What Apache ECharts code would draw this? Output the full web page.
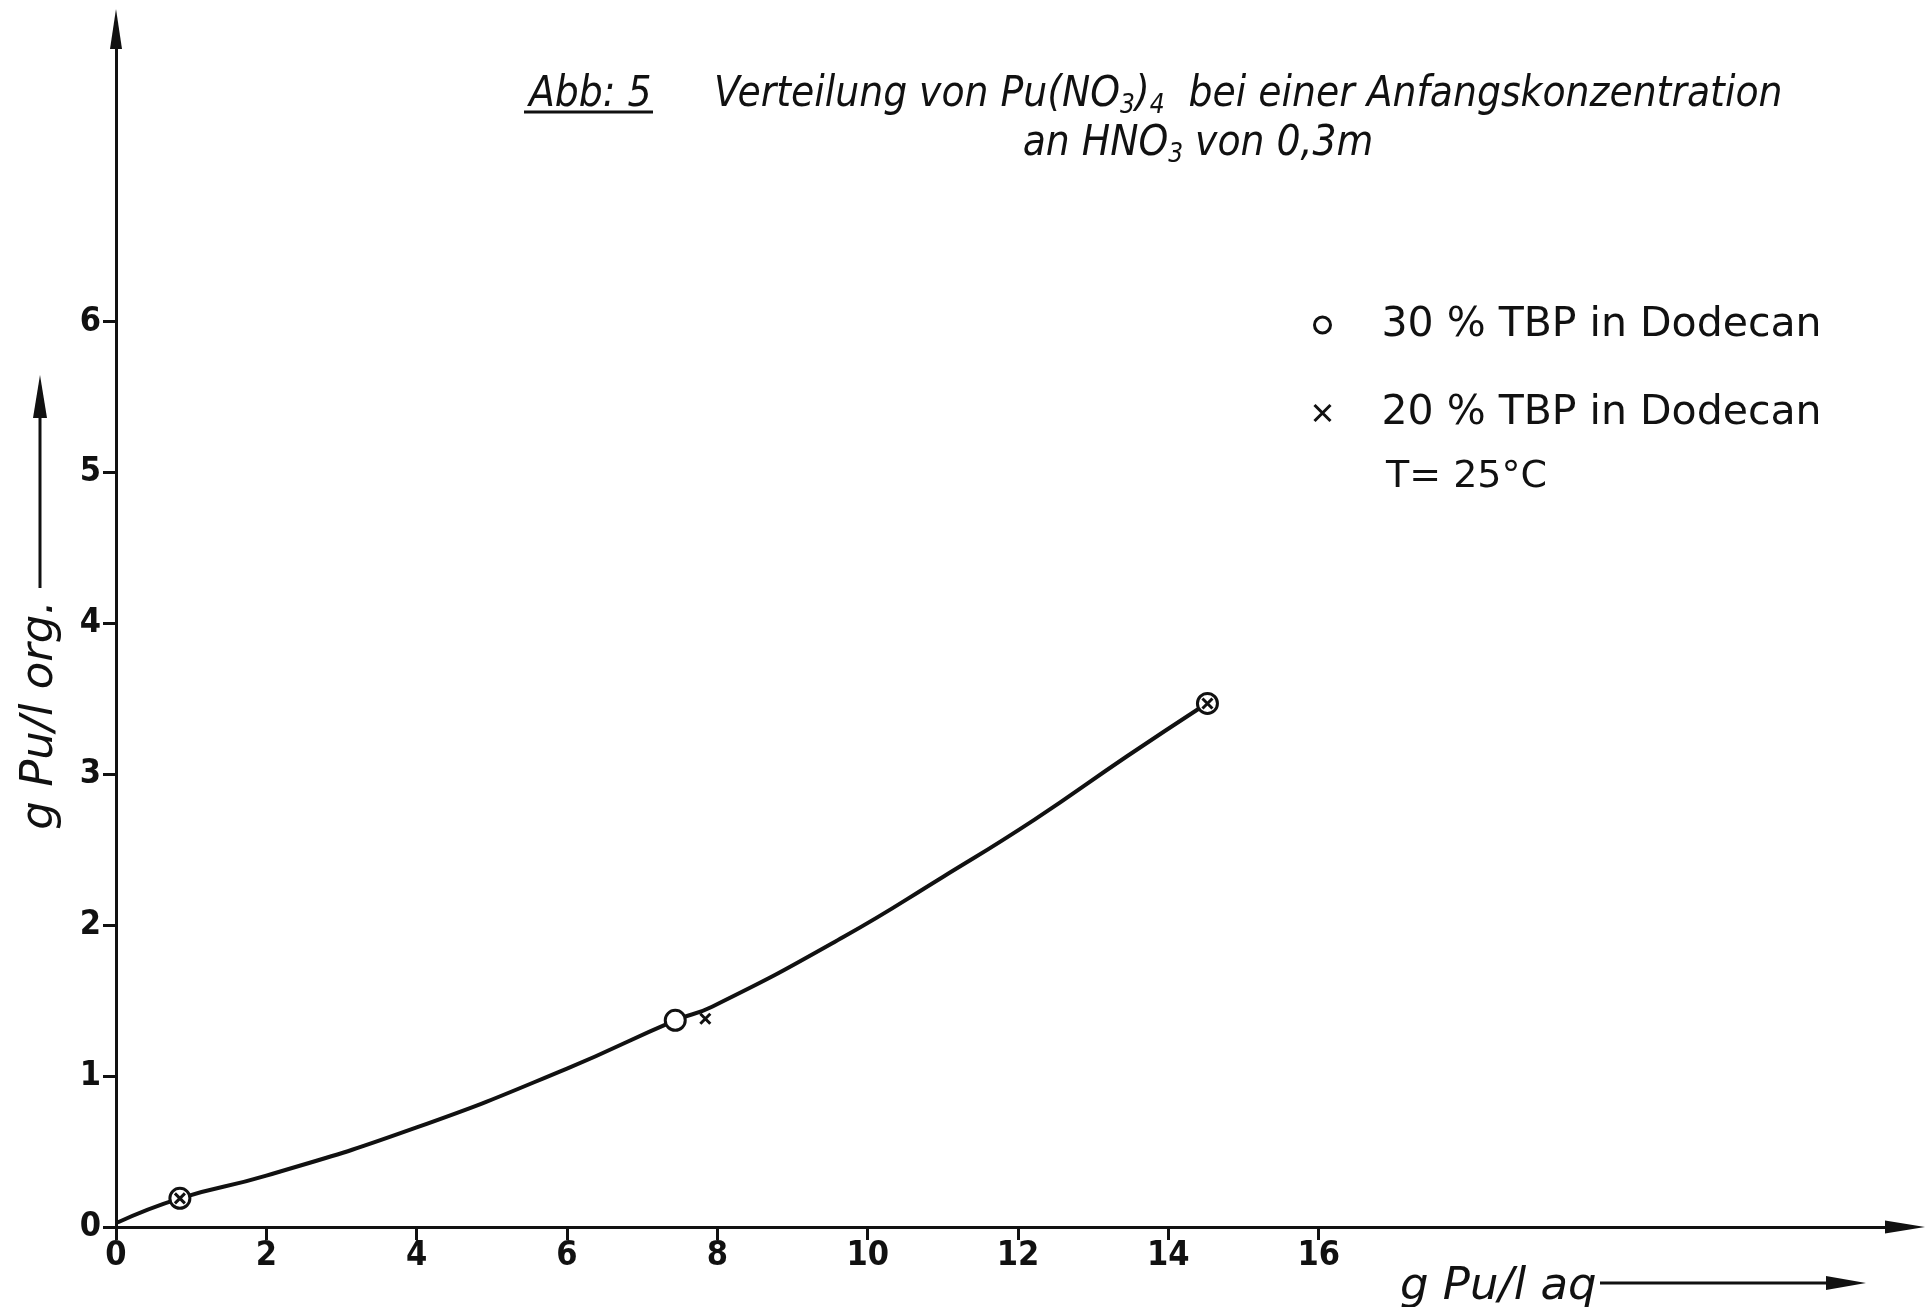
<!DOCTYPE html>
<html>
<head>
<meta charset="utf-8">
<script src="https://cdn.jsdelivr.net/npm/echarts@6/dist/echarts.min.js"></script>
<style>
html,body{margin:0;padding:0;background:#fff;}
#chart{width:1928px;height:1307px;}
</style>
</head>
<body>
<div id="chart"></div>
<script>
// ---- data ----
const xTicks = [0, 2, 4, 6, 8, 10, 12, 14, 16];
const yTicks = [0, 1, 2, 3, 4, 5, 6];
const seriesNames = ['30 % TBP in Dodecan', '20 % TBP in Dodecan'];
const tbp30 = [[0.85, 0.19], [7.44, 1.37], [14.52, 3.47]];
const tbp20 = [[0.85, 0.19], [7.84, 1.38], [14.52, 3.47]];
const curve = [[0.02, 0.03], [0.85, 0.19], [2, 0.34], [4, 0.66], [6, 1.05], [7.44, 1.37],
               [7.93, 1.46], [9.67, 1.92], [11, 2.32], [12.22, 2.70], [13.45, 3.12], [14.45, 3.45]];
const xName = 'g Pu/l aq';
const yName = 'g Pu/l org.';
const noteText = 'T= 25°C';

const INK = '#111';
const ITAL = 'DejaVu Sans Condensed';
const chart = echarts.init(document.getElementById('chart'), null, {renderer: 'canvas'});

const subStyle = {fontSize: 26, fontStyle: 'italic', fontWeight: 'normal', fontFamily: ITAL, color: INK, lineHeight: 12, verticalAlign: 'bottom'};
const mainStyle = {fontSize: 42, fontStyle: 'italic', fontWeight: 'normal', fontFamily: ITAL, color: INK, lineHeight: 48};

const option = {
  backgroundColor: '#fff',
  animation: false,
  title: [
    {text: 'Abb: 5', left: 524, top: 66, textStyle: mainStyle},
    {text: '{m|Verteilung von Pu(NO}{s|3}{m|)}{s|4}{m|  bei einer Anfangskonzentration}', left: 709, top: 66,
     textStyle: {rich: {m: mainStyle, s: subStyle}}},
    {text: '{m|an HNO}{s|3}{m| von 0,3m}', left: 1193, textAlign: 'center', top: 115,
     textStyle: {rich: {m: mainStyle, s: subStyle}}}
  ],
  legend: {
    orient: 'vertical',
    left: 1308,
    top: 298,
    itemWidth: 16,
    itemHeight: 16,
    itemGap: 44,
    textStyle: {fontSize: 41, fontFamily: 'DejaVu Sans', color: INK, lineHeight: 44, padding: [0, 0, 0, 46]},
    data: [
      {name: seriesNames[0], icon: 'circle', itemStyle: {color: '#fff', borderColor: INK, borderWidth: 3}},
      {name: seriesNames[1], icon: 'path://M0,0L10,10M0,10L10,0', itemStyle: {color: 'transparent', borderColor: INK, borderWidth: 3}}
    ]
  },
  grid: {left: 116, right: 23, top: 29, bottom: 80},
  xAxis: {
    type: 'value', min: 0, max: 23.8,
    splitLine: {show: false},
    axisLine: {show: true, lineStyle: {color: INK, width: 3}, symbol: ['none', 'triangle'], symbolSize: [13, 40]},
    axisTick: {show: true, length: 13, customValues: xTicks, lineStyle: {color: INK, width: 3}},
    axisLabel: {customValues: xTicks, margin: 12, color: INK, fontSize: 34, fontWeight: 'bold', fontFamily: 'DejaVu Sans Condensed'}
  },
  yAxis: {
    type: 'value', min: 0, max: 7.94,
    splitLine: {show: false},
    axisLine: {show: true, lineStyle: {color: INK, width: 3}, symbol: ['none', 'triangle'], symbolSize: [12, 40]},
    axisTick: {show: true, length: 13, customValues: yTicks, lineStyle: {color: INK, width: 3}},
    axisLabel: {customValues: yTicks, margin: 15, color: INK, fontSize: 34, fontWeight: 'bold', fontFamily: 'DejaVu Sans Condensed'}
  },
  series: [
    {
      type: 'line', name: 'Kurve', data: curve, smooth: true, showSymbol: false, symbol: 'none',
      lineStyle: {color: INK, width: 4}, z: 2, silent: true
    },
    {
      type: 'scatter', name: seriesNames[0], data: tbp30, symbol: 'circle', symbolSize: 20,
      itemStyle: {color: '#fff', borderColor: INK, borderWidth: 3, opacity: 1}, z: 3
    },
    {
      type: 'scatter', name: seriesNames[1], data: tbp20, symbol: 'path://M0,0L10,10M0,10L10,0', symbolSize: 10,
      itemStyle: {color: 'transparent', borderColor: INK, borderWidth: 3, opacity: 1}, z: 4
    }
  ],
  graphic: [
    {type: 'line', shape: {x1: 524, y1: 112, x2: 653, y2: 112}, style: {stroke: INK, lineWidth: 3}},
    {type: 'text', x: 1386, y: 477, style: {text: noteText, font: '38px "DejaVu Sans"', fill: INK, textVerticalAlign: 'middle'}},
    {type: 'text', x: 1400, y: 1287, style: {text: xName, font: 'italic 45px "DejaVu Sans"', fill: INK, textVerticalAlign: 'middle'}},
    {type: 'line', shape: {x1: 1600, y1: 1283, x2: 1835, y2: 1283}, style: {stroke: INK, lineWidth: 3}},
    {type: 'polygon', shape: {points: [[1866, 1283], [1826, 1276], [1826, 1290]]}, style: {fill: INK}},
    {type: 'text', x: 40, y: 715, rotation: Math.PI / 2,
     style: {text: yName, font: 'italic 45px "DejaVu Sans"', fill: INK, textAlign: 'center', textVerticalAlign: 'middle'}},
    {type: 'line', shape: {x1: 40, y1: 588, x2: 40, y2: 412}, style: {stroke: INK, lineWidth: 3}},
    {type: 'polygon', shape: {points: [[40, 375], [33, 418], [47, 418]]}, style: {fill: INK}}
  ]
};
chart.setOption(option);
</script>
</body>
</html>
